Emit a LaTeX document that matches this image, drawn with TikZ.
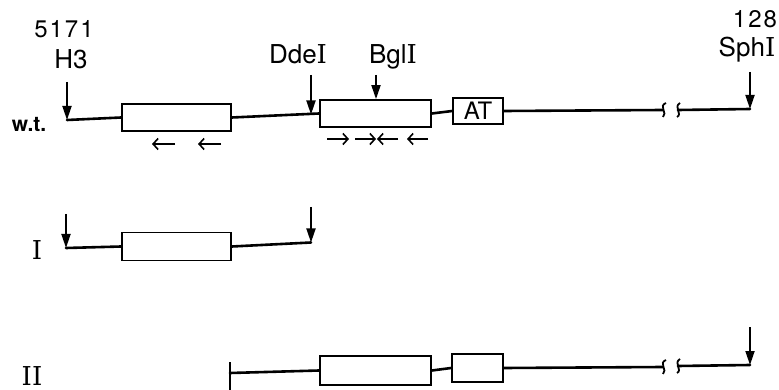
\documentclass[tikz,border=0pt]{standalone}
\usepackage{fontspec}
\setsansfont{TeX Gyre Heros}
\newfontfamily\slab{DejaVu Serif}
\newcommand{\digsp}{\kern2pt}
\usetikzlibrary{arrows.meta,calc}
\begin{document}
\begin{tikzpicture}[x=1pt,y=-1pt,
  dna/.style={line width=2.6pt, line cap=round},
  gene/.style={draw, line width=1.8pt, rectangle, inner sep=0pt, minimum height=27pt},
  site/.style={-{Triangle[length=14pt,width=9pt]}, line width=1.8pt},
  dirarrow/.style={-{Straight Barb[length=5pt,width=11pt]}, line width=1.6pt},
  lbl/.style={font=\sffamily\fontsize{26}{26}\selectfont, inner sep=0pt, anchor=base},
  rowlbl/.style={font=\slab\fontsize{26}{26}\selectfont, inner sep=0pt, anchor=base},
  brk/.style={line width=1.8pt}]
\useasboundingbox (0,0) rectangle (779,390);

% ---------- wild type ----------
\node[inner sep=0pt, anchor=base, font=\sffamily\bfseries\fontsize{21}{21}\selectfont] (wt) at (29,132) {w.t.};
\coordinate (wtL) at (67,120);
\node[gene, minimum width=109pt] (b1) at (176.5,117.5) {};
\node[gene, minimum width=111pt] (b2) at (375.5,113.5) {};
\node[gene, minimum width=50pt, minimum height=26pt, font=\sffamily\fontsize{24}{24}\selectfont] (at) at (478,111) {AT};
\coordinate (dde) at (311,114.5);
\coordinate (wtA) at (663,110);
\coordinate (wtB) at (678,110);
\coordinate (wtR) at (750,109);

\draw[dna] (wtL) -- (b1.west);
\draw[dna] (b1.east) -- (b2.west);
\draw[dna] (b2.east) -- (at.west);
\draw[dna] (at.east) -- (wtA);
\draw[dna] (wtB) -- (wtR);
\draw[brk] ($(wtA)+(3,-7)$) .. controls ($(wtA)+(-5,-4)$) and ($(wtA)+(5,3)$) .. ($(wtA)+(0,7)$);
\draw[brk] ($(wtB)+(2,-7)$) .. controls ($(wtB)+(-5,-3)$) and ($(wtB)+(5,4)$) .. ($(wtB)+(-1,7)$);

\node[inner sep=0pt, anchor=base, font=\sffamily\fontsize{24}{24}\selectfont] (n5171) at (64,38) {5\digsp1\digsp7\digsp1};
\node[lbl] (h3) at (71,69) {H3};
\coordinate (h3t) at (67,82);
\draw[site] (h3t) -- (wtL);

\node[lbl] (ddel) at (298,64) {Dde{\slab I}};
\coordinate (ddet) at (311,75);
\draw[site] (ddet) -- (dde);

\node[lbl] (bgll) at (393,64) {Bgl{\slab I}};
\coordinate (bglt) at (376,75);
\draw[site] (bglt) -- (b2.north -| bglt);

\node[inner sep=0pt, anchor=base, font=\sffamily\fontsize{24}{24}\selectfont] (n128) at (755,28) {1\digsp2\digsp8};
\node[lbl] (sph) at (747,57) {Sph{\slab I}};
\coordinate (spht) at (750,72);
\draw[site] (spht) -- (wtR);

% direction arrows
\draw[dirarrow] (175,144) -- (152,144);
\draw[dirarrow] (221,144) -- (198,144);
\draw[dirarrow] (327,139) -- (349,139);
\draw[dirarrow] (355,139) -- (376,139);
\draw[dirarrow] (398,139) -- (377,139);
\draw[dirarrow] (428,139) -- (407,139);

% ---------- I ----------
\node[rowlbl] (r1) at (37,259) {I};
\coordinate (iL) at (66,248);
\node[gene, minimum width=109pt, minimum height=28pt] (c1) at (176.5,246.5) {};
\coordinate (iR) at (311,242.5);
\draw[dna] (iL) -- (c1.west);
\draw[dna] (c1.east) -- (iR);
\coordinate (iLt) at (66,214);
\coordinate (iRt) at (311,207);
\draw[site] (iLt) -- (iL);
\draw[site] (iRt) -- (iR);

% ---------- II ----------
\node[rowlbl] (r2) at (32,385) {II};
\coordinate (iiL) at (230,373);
\node[gene, minimum width=111pt, minimum height=29pt] (d1) at (375.5,370.5) {};
\node[gene, minimum width=51pt, minimum height=28pt] (d2) at (477.5,368) {};
\coordinate (iiA) at (663,367);
\coordinate (iiB) at (678,366);
\coordinate (iiR) at (750,365);
\coordinate (tickT) at (230,362);
\coordinate (tickB) at (230,390);
\draw[line width=1.8pt] (tickT) -- (tickB);
\draw[dna] (iiL) -- (d1.west);
\draw[dna] (d1.east) -- (d2.west);
\draw[dna] (d2.east) -- (iiA);
\draw[dna] (iiB) -- (iiR);
\draw[brk] ($(iiA)+(3,-7)$) .. controls ($(iiA)+(-5,-4)$) and ($(iiA)+(5,3)$) .. ($(iiA)+(0,7)$);
\draw[brk] ($(iiB)+(2,-7)$) .. controls ($(iiB)+(-5,-3)$) and ($(iiB)+(5,4)$) .. ($(iiB)+(-1,7)$);
\coordinate (iiRt) at (750,327);
\draw[site] (iiRt) -- (iiR);
\end{tikzpicture}
\end{document}
